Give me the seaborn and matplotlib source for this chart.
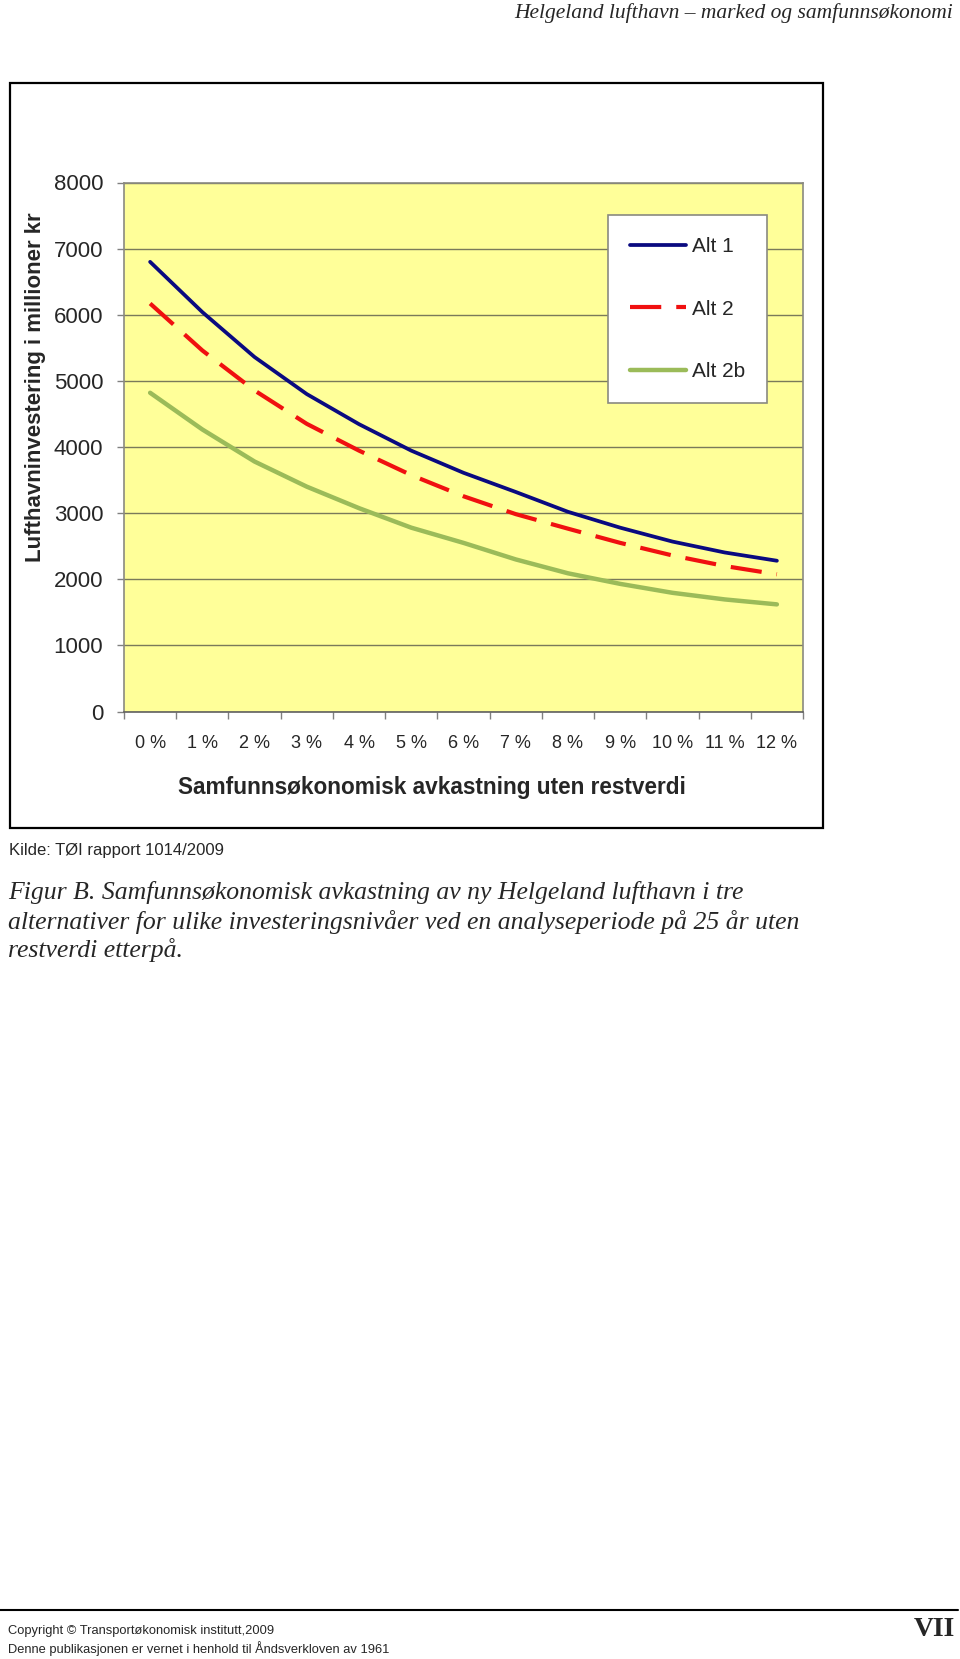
import matplotlib
matplotlib.use("Agg")
import matplotlib.pyplot as plt
import seaborn as sns
import pandas as pd
from matplotlib.patches import Rectangle
from matplotlib.lines import Line2D

# ---------------- data ----------------
rates = list(range(13))
rate_labels = [f"{r} %" for r in rates]
alt1 = [6800, 6040, 5360, 4800, 4345, 3945, 3610, 3320, 3020, 2780, 2570, 2405, 2280]
alt2 = [6170, 5460, 4855, 4350, 3945, 3575, 3255, 2985, 2765, 2550, 2360, 2200, 2075]
alt2b = [4820, 4265, 3780, 3400, 3075, 2780, 2550, 2300, 2090, 1930, 1795, 1695, 1620]
series_names = ["Alt 1", "Alt 2", "Alt 2b"]
yticks = [0, 1000, 2000, 3000, 4000, 5000, 6000, 7000, 8000]

df = pd.DataFrame({
    "rate": rates * 3,
    "value": alt1 + alt2 + alt2b,
    "alt": [series_names[0]] * 13 + [series_names[1]] * 13 + [series_names[2]] * 13,
})

sns.set_theme(style="white")
plt.rcParams["font.family"] = ["Liberation Sans", "DejaVu Sans"]

W, H = 960, 1659
fig = plt.figure(figsize=(W / 100, H / 100), dpi=100)

def fx(px):
    return px / W

def fy(py):
    return 1 - py / H

# outer chart frame
fig.patches.append(Rectangle((fx(10), fy(828)), fx(823) - fx(10), fy(83) - fy(828),
                             transform=fig.transFigure, fill=False, edgecolor="black",
                             linewidth=1.6, zorder=0))

L, R, T, B = 124, 803, 182.5, 711.5
ax = fig.add_axes([fx(L), fy(B), fx(R) - fx(L), fy(T) - fy(B)])
ax.set_facecolor("#FFFF99")

colors = {"Alt 1": "#0A0A80", "Alt 2": "#F01010", "Alt 2b": "#9BBB59"}
widths = {"Alt 1": 2.7, "Alt 2": 3.0, "Alt 2b": 3.2}
styles = {"Alt 1": "-", "Alt 2": (0, (7.5, 3.6)), "Alt 2b": "-"}

for name in series_names:
    sub = df[df["alt"] == name]
    sns.lineplot(data=sub, x="rate", y="value", ax=ax, color=colors[name],
                 linewidth=widths[name], linestyle=styles[name], label=name,
                 zorder=3, legend=False)

ax.set_xlim(-0.5, 12.5)
ax.set_ylim(0, 8000)
ax.set_yticks(yticks)
ax.set_yticklabels([str(v) for v in yticks], fontsize=16)
ax.set_xticks(rates)
ax.set_xticklabels(rate_labels, fontsize=13)
ax.set_xticks([r - 0.5 for r in rates] + [12.5], minor=True)
ax.tick_params(axis="x", which="major", length=0, pad=17)
ax.tick_params(axis="x", which="minor", length=5, width=1, color="#808080", direction="out", bottom=True)
ax.tick_params(axis="y", which="major", length=5, width=1, color="#808080", direction="out", left=True, pad=10)
ax.yaxis.grid(True, color="#7a7a5a", linewidth=1.0)
ax.xaxis.grid(False)
ax.set_axisbelow(True)
for s in ax.spines.values():
    s.set_color("#8a8a80")
    s.set_linewidth(1.2)
ax.spines["bottom"].set_color("#606060")

ax.set_xlabel("Samfunnsøkonomisk avkastning uten restverdi", fontsize=16.3, fontweight="bold")
ax.xaxis.set_label_coords((432 - L) / (R - L), -(787 - B) / (B - T))
ax.xaxis.label.set_va("center")
ax.set_ylabel("Lufthavninvestering i millioner kr", fontsize=16, fontweight="bold")
ax.yaxis.set_label_coords((35 - L) / (R - L), 1 - (387 - T) / (B - T))
ax.yaxis.label.set_va("center")

handles = [Line2D([0], [0], color=colors[n], linewidth=widths[n], linestyle=styles[n]) for n in series_names]
leg = ax.legend(handles, series_names, loc="upper left",
                bbox_to_anchor=(fx(608), fy(215)), bbox_transform=fig.transFigure,
                fontsize=15, frameon=True, fancybox=False, shadow=False,
                labelspacing=2.1, handlelength=2.7, handletextpad=0.3,
                borderpad=1.05, borderaxespad=0)
leg.get_frame().set_edgecolor("#8a8a80")
leg.get_frame().set_linewidth(1.2)
leg.get_frame().set_facecolor("white")
leg.get_frame().set_alpha(1)

# page texts
fig.text(fx(953), fy(13), "Helgeland lufthavn – marked og samfunnsøkonomi", ha="right", va="center",
         family=["Liberation Serif", "DejaVu Serif"], style="italic", fontsize=15.5)
fig.text(fx(9), fy(851), "Kilde: TØI rapport 1014/2009", ha="left", va="center", fontsize=12)
caption = ["Figur B. Samfunnsøkonomisk avkastning av ny Helgeland lufthavn i tre",
           "alternativer for ulike investeringsnivåer ved en analyseperiode på 25 år uten",
           "restverdi etterpå."]
for i, line in enumerate(caption):
    fig.text(fx(8), fy(893 + i * 28.6), line, ha="left", va="center",
             family=["Liberation Serif", "DejaVu Serif"], style="italic", fontsize=18.5)

fig.add_artist(Line2D([fx(0), fx(958)], [fy(1610), fy(1610)], transform=fig.transFigure,
                      color="black", linewidth=1.5))
fig.text(fx(8), fy(1631), "Copyright © Transportøkonomisk institutt,2009", ha="left", va="center",
         family=["Liberation Sans", "DejaVu Sans"], fontsize=9.25)
fig.text(fx(8), fy(1649), "Denne publikasjonen er vernet i henhold til Åndsverkloven av 1961", ha="left",
         va="center", family=["Liberation Sans", "DejaVu Sans"], fontsize=9.25)
fig.text(fx(955), fy(1630), "VII", ha="right", va="center",
         family=["Liberation Serif", "DejaVu Serif"], fontweight="bold", fontsize=20)

fig.savefig("out.png", dpi=100)
